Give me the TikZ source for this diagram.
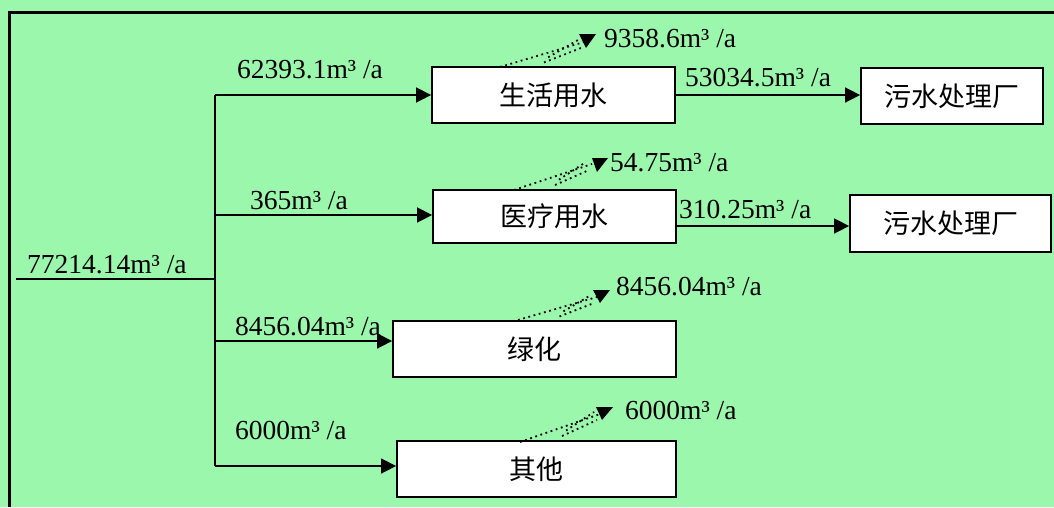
\documentclass[tikz,border=0pt]{standalone}
\usepackage{fontspec}
\setmainfont{Liberation Serif}
\newfontfamily\cjk{Noto Sans CJK SC}
\usetikzlibrary{arrows.meta,calc}
\definecolor{bg}{RGB}{154,247,171}
\begin{document}
\begin{tikzpicture}[x=1pt,y=-1pt,
  box/.style={draw, fill=white, line width=1.8pt, inner sep=0pt, font=\cjk\fontsize{27}{30}\selectfont},
  flow/.style={line width=1.6pt, -{Triangle[length=15pt,width=15pt]}},
  lbl/.style={anchor=base west, inner sep=0pt, font=\fontsize{27.5}{30}\selectfont},
  dots/.style={line width=1.8pt, dash pattern=on 1.8pt off 3.6pt},
  tip/.style={fill=black}]
% background and frame
\fill[bg] (0,0) rectangle (1054,507);
\useasboundingbox (0,0) rectangle (1054,507);
\draw[line width=3pt] (9,507) -- (9,12) -- (1054,12);

% boxes
\node[box, minimum width=243pt, minimum height=56pt] (b1) at (553.5,95) {生活用水};
\node[box, minimum width=182pt, minimum height=56pt] (w1) at (952,96) {污水处理厂};
\node[box, minimum width=243pt, minimum height=53pt] (b2) at (554.5,216.5) {医疗用水};
\node[box, minimum width=201pt, minimum height=57pt] (w2) at (950.5,223.5) {污水处理厂};
\node[box, minimum width=283pt, minimum height=56pt] (b3) at (534.5,349) {绿化};
\node[box, minimum width=279pt, minimum height=56pt] (b4) at (536.5,469) {其他};

% trunk
\coordinate (in) at (16,279);
\coordinate (jin) at (215,279);
\coordinate (j1) at (215,95);
\coordinate (j2) at (215,215);
\coordinate (j3) at (215,341);
\coordinate (j4) at (215,466);
\draw[line width=1.6pt] (in) -- (jin);
\draw[line width=1.6pt] (j1) -- (j4);
\draw[flow] (j1) -- (j1 -| b1.west);
\draw[flow] (j2) -- (j2 -| b2.west);
\draw[flow] (j3) -- (j3 -| b3.west);
\draw[flow] (j4) -- (j4 -| b4.west);

% to treatment plants
\coordinate (o1) at (b1.east |- 0,95);
\coordinate (o2) at (b2.east |- 0,226);
\draw[flow] (o1) -- (o1 -| w1.west);
\draw[flow] (o2) -- (o2 -| w2.west);

% flow labels
\node[lbl] (l0) at (27,273) {77214.14m³ /a};
\node[lbl] (l1) at (237,78) {62393.1m³ /a};
\node[lbl] (l2) at (250,209) {365m³ /a};
\node[lbl] (l3) at (235,335) {8456.04m³ /a};
\node[lbl] (l4) at (235,439) {6000m³ /a};
\node[lbl] (l5) at (685,86) {53034.5m³ /a};
\node[lbl] (l6) at (679,218) {310.25m³ /a};

% loss (dotted) arrows
\coordinate (s1) at (500,67);  \coordinate (e1) at (584,42);
\coordinate (s2) at (514,190); \coordinate (e2) at (592,164);
\coordinate (s3) at (518,320); \coordinate (e3) at (597,297);
\coordinate (s4) at (520,442); \coordinate (e4) at (600,414);
\foreach \s/\e in {s1/e1,s2/e2,s3/e3,s4/e4}{
  \draw[dots] (\s) -- (\e);
  \draw[dots] ($(\s)!0.5!(\e)+(2,8)$) -- ($(\e)+(-3,6)$);
  \draw[dots] ($(\s)!0.55!(\e)+(2,4)$) -- ($(\e)+(-6,-2)$);
}
\fill[tip] (579,34) -- (596,34) -- (586,48) -- cycle;
\fill[tip] (592,158) -- (608,158) -- (597,172) -- cycle;
\fill[tip] (593,290) -- (610,290) -- (600,303) -- cycle;
\fill[tip] (596,407) -- (613,407) -- (602,420) -- cycle;

\node[lbl] (r1) at (604,47) {9358.6m³ /a};
\node[lbl] (r2) at (610,171) {54.75m³ /a};
\node[lbl] (r3) at (616,295) {8456.04m³ /a};
\node[lbl] (r4) at (625,419) {6000m³ /a};
\end{tikzpicture}
\end{document}
